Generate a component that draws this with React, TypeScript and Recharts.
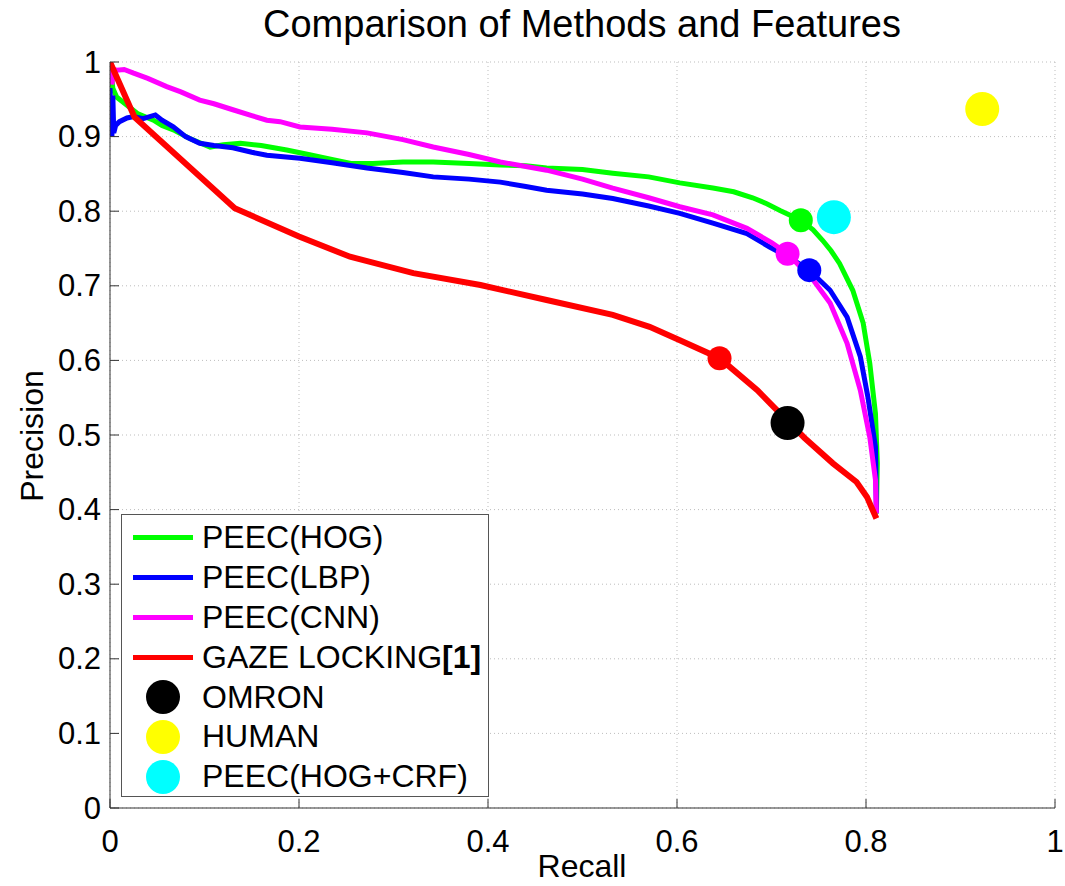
import { ComposedChart, Line, Scatter, XAxis, YAxis, CartesianGrid, Legend } from "recharts"

const FONT = "'Liberation Sans', Arial, sans-serif"

// precision-recall curves as [recall, precision]
const hogCurve = [
  [0, 1], [0.003, 0.965], [0.007, 0.953], [0.015, 0.945], [0.029, 0.931], [0.046, 0.922],
  [0.055, 0.915], [0.067, 0.909], [0.085, 0.897], [0.106, 0.886], [0.12, 0.889], [0.138, 0.891],
  [0.16, 0.888], [0.187, 0.882], [0.21, 0.876], [0.236, 0.869], [0.255, 0.864], [0.278, 0.864],
  [0.31, 0.866], [0.342, 0.866], [0.38, 0.864], [0.413, 0.862], [0.44, 0.861], [0.462, 0.858],
  [0.5, 0.856], [0.532, 0.851], [0.57, 0.846], [0.603, 0.838], [0.638, 0.831], [0.66, 0.826],
  [0.68, 0.818], [0.695, 0.81], [0.709, 0.801], [0.731, 0.788], [0.744, 0.775], [0.754, 0.761],
  [0.763, 0.747], [0.772, 0.73], [0.786, 0.694], [0.797, 0.65], [0.804, 0.596], [0.81, 0.529],
  [0.812, 0.462], [0.811, 0.395],
]

const lbpCurve = [
  [0, 0.965], [0.001, 0.93], [0.002, 0.9], [0.003, 0.955], [0.004, 0.905], [0.006, 0.915],
  [0.01, 0.92], [0.018, 0.925], [0.025, 0.927], [0.035, 0.924], [0.048, 0.929], [0.055, 0.922],
  [0.067, 0.913], [0.08, 0.9], [0.095, 0.891], [0.11, 0.888], [0.13, 0.885], [0.15, 0.879],
  [0.166, 0.875], [0.201, 0.871], [0.235, 0.865], [0.272, 0.858], [0.31, 0.852], [0.342, 0.846],
  [0.38, 0.843], [0.413, 0.839], [0.44, 0.833], [0.462, 0.828], [0.5, 0.823], [0.532, 0.817],
  [0.57, 0.807], [0.603, 0.797], [0.638, 0.784], [0.674, 0.77], [0.698, 0.752], [0.72, 0.737],
  [0.74, 0.721], [0.762, 0.694], [0.78, 0.658], [0.794, 0.605], [0.802, 0.551], [0.81, 0.484],
  [0.811, 0.395],
]

const cnnCurve = [
  [0, 1], [0.002, 0.97], [0.004, 0.99], [0.007, 0.989], [0.015, 0.99], [0.025, 0.985],
  [0.04, 0.978], [0.06, 0.967], [0.075, 0.96], [0.095, 0.949], [0.11, 0.944], [0.13, 0.936],
  [0.15, 0.928], [0.166, 0.922], [0.18, 0.92], [0.201, 0.913], [0.235, 0.91], [0.272, 0.905],
  [0.31, 0.896], [0.342, 0.886], [0.38, 0.876], [0.413, 0.866], [0.44, 0.86], [0.462, 0.855],
  [0.5, 0.843], [0.532, 0.831], [0.57, 0.818], [0.603, 0.806], [0.638, 0.795], [0.674, 0.777],
  [0.7, 0.758], [0.717, 0.743], [0.744, 0.708], [0.762, 0.677], [0.78, 0.623], [0.794, 0.56],
  [0.804, 0.497], [0.81, 0.44], [0.811, 0.395],
]

const gazeCurve = [
  [0, 1], [0.026, 0.926], [0.132, 0.804], [0.2, 0.766], [0.254, 0.739], [0.321, 0.717],
  [0.392, 0.701], [0.462, 0.681], [0.532, 0.661], [0.571, 0.645], [0.603, 0.627], [0.645, 0.603],
  [0.685, 0.56], [0.702, 0.538], [0.735, 0.496], [0.765, 0.462], [0.79, 0.437], [0.801, 0.417],
  [0.811, 0.388],
]

// single operating points: [recall, precision]
const hogPoint = [0.731, 0.788]
const lbpPoint = [0.74, 0.721]
const cnnPoint = [0.717, 0.743]
const gazePoint = [0.645, 0.603]
const omronPoint = [0.717, 0.516]
const humanPoint = [0.923, 0.937]
const crfPoint = [0.766, 0.792]

const xTicks = [0, 0.2, 0.4, 0.6, 0.8, 1]
const yTicks = [0, 0.1, 0.2, 0.3, 0.4, 0.5, 0.6, 0.7, 0.8, 0.9, 1]

const toRows = (pts: number[][]) => pts.map(([x, y]) => ({ x, y }))

const curves = [
  { name: "PEEC(HOG)", color: "#00ff00", pts: hogCurve, width: 5 },
  { name: "PEEC(LBP)", color: "#0000ff", pts: lbpCurve, width: 5 },
  { name: "PEEC(CNN)", color: "#ff00ff", pts: cnnCurve, width: 5 },
  { name: "GAZE LOCKING", color: "#ff0000", pts: gazeCurve, width: 6 },
]

const points = [
  { name: "hog", color: "#00ff00", pt: hogPoint, r: 12 },
  { name: "cnn", color: "#ff00ff", pt: cnnPoint, r: 12 },
  { name: "lbp", color: "#0000ff", pt: lbpPoint, r: 12 },
  { name: "gaze", color: "#ff0000", pt: gazePoint, r: 12 },
  { name: "OMRON", color: "#000000", pt: omronPoint, r: 17 },
  { name: "HUMAN", color: "#ffff00", pt: humanPoint, r: 17 },
  { name: "PEEC(HOG+CRF)", color: "#00ffff", pt: crfPoint, r: 17 },
]

const PLOT_LEFT = 110
const PLOT_BOTTOM = 808

function YTick(props: any) {
  const y = props.y
  return (
    <g>
      <line x1={PLOT_LEFT} x2={PLOT_LEFT + 9} y1={y} y2={y} stroke="#333" />
      <text x={101} y={y} textAnchor="end" dominantBaseline="central" fontSize={31} fontFamily={FONT} fill="#000">
        {props.payload.value}
      </text>
    </g>
  )
}

function XTick(props: any) {
  const x = props.x
  return (
    <g>
      <line x1={x} x2={x} y1={PLOT_BOTTOM} y2={PLOT_BOTTOM - 9} stroke="#333" />
      <text x={x} y={841} textAnchor="middle" dominantBaseline="central" fontSize={31} fontFamily={FONT} fill="#000">
        {props.payload.value}
      </text>
    </g>
  )
}

function LegendBox() {
  const rows = [
    ...curves.map((c) => ({ kind: "line", color: c.color, name: c.name })),
    ...points.slice(4).map((p) => ({ kind: "dot", color: p.color, name: p.name })),
  ]
  return (
    <div style={{ width: 368, height: 283, border: "1px solid #555", background: "#fff", boxSizing: "border-box", paddingTop: 3 }}>
      {rows.map((r) => (
        <div key={r.name} style={{ height: 39.8, display: "flex", alignItems: "center", fontFamily: FONT, fontSize: 32, color: "#000" }}>
          <div style={{ width: 60, marginLeft: 11, marginRight: 9, display: "flex", justifyContent: "center" }}>
            {r.kind === "line" ? (
              <div style={{ width: 60, height: 5, background: r.color }} />
            ) : (
              <div style={{ width: 34, height: 34, borderRadius: 17, background: r.color }} />
            )}
          </div>
          <span style={{ whiteSpace: "nowrap" }}>
            {r.name}
            {r.name === "GAZE LOCKING" ? <b>[1]</b> : null}
          </span>
        </div>
      ))}
    </div>
  )
}

export default function App() {
  return (
    <div style={{ position: "absolute", left: 0, top: 0, width: 1065, height: 886, background: "#fff" }}>
      <div style={{ position: "absolute", left: 100, width: 964, top: 3, textAlign: "center", fontFamily: FONT, fontSize: 38, color: "#000" }}>
        Comparison of Methods and Features
      </div>
      <ComposedChart width={1065} height={886} margin={{ top: 62, right: 10, bottom: 0, left: 0 }}>
        <CartesianGrid stroke="#bdbdbd" strokeDasharray="1 3" horizontalValues={yTicks} verticalValues={xTicks} />
        <XAxis
          type="number"
          dataKey="x"
          domain={[0, 1]}
          ticks={xTicks}
          height={78}
          stroke="#333"
          tickLine={false}
          tick={<XTick />}
          allowDataOverflow
          label={() => (
            <text x={582} y={866} textAnchor="middle" dominantBaseline="central" fontSize={32} fontFamily={FONT} fill="#000">
              Recall
            </text>
          )}
        />
        <YAxis
          type="number"
          dataKey="y"
          domain={[0, 1]}
          ticks={yTicks}
          width={110}
          stroke="#333"
          tickLine={false}
          tick={<YTick />}
          allowDataOverflow
          label={() => (
            <text x={32} y={436} transform="rotate(-90 32 436)" textAnchor="middle" dominantBaseline="central" fontSize={32} fontFamily={FONT} fill="#000">
              Precision
            </text>
          )}
        />
        {curves.map((c) => (
          <Line
            key={c.name}
            data={toRows(c.pts)}
            dataKey="y"
            type="linear"
            stroke={c.color}
            strokeWidth={c.width}
            dot={false}
            isAnimationActive={false}
            legendType="none"
          />
        ))}
        {points.map((p) => (
          <Scatter
            key={p.name}
            data={[{ x: p.pt[0], y: p.pt[1] }]}
            dataKey="y"
            fill={p.color}
            isAnimationActive={false}
            legendType="none"
            shape={(s: any) => <circle cx={s.cx} cy={s.cy} r={p.r} fill={p.color} />}
          />
        ))}
        <Legend
          layout="vertical"
          align="center"
          verticalAlign="middle"
          wrapperStyle={{ left: 121, top: 514, width: 368, height: 283 }}
          content={() => <LegendBox />}
        />
      </ComposedChart>
    </div>
  )
}
